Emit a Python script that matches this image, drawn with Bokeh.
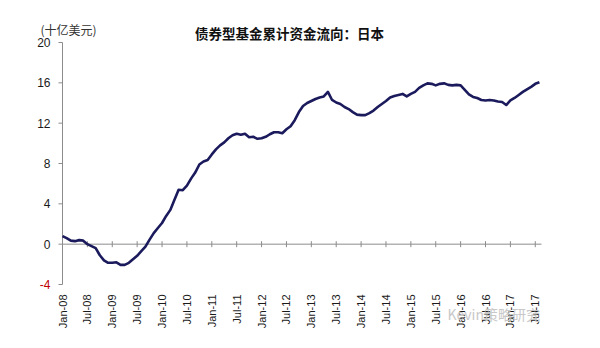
import math
from bokeh.plotting import figure
from bokeh.models import Range1d, Label, ColumnDataSource
from bokeh.core.properties import value
from bokeh.embed import file_html
from bokeh.resources import INLINE

# Monthly cumulative flows (billion USD), Jan-08 .. Aug-17
flows = [
    0.8, 0.6, 0.35, 0.3, 0.4, 0.35, 0.0, -0.2, -0.4, -1.1, -1.6, -1.85,
    -1.85, -1.8, -2.05, -2.05, -1.85, -1.5, -1.15, -0.7, -0.25, 0.45, 1.1, 1.6,
    2.1, 2.8, 3.4, 4.4, 5.4, 5.35, 5.8, 6.5, 7.1, 7.9, 8.2, 8.35,
    8.9, 9.4, 9.8, 10.1, 10.5, 10.8, 10.95, 10.85, 10.95, 10.6, 10.65, 10.45,
    10.5, 10.65, 10.9, 11.1, 11.1, 11.0, 11.4, 11.7, 12.3, 13.1, 13.7, 14.0,
    14.2, 14.4, 14.55, 14.65, 15.1, 14.3, 14.05, 13.9, 13.6, 13.4, 13.1, 12.85,
    12.8, 12.8, 13.0, 13.25, 13.6, 13.9, 14.2, 14.55, 14.7, 14.8, 14.9, 14.65,
    14.9, 15.1, 15.5, 15.75, 15.95, 15.9, 15.75, 15.9, 15.95, 15.8, 15.75, 15.8,
    15.75, 15.3, 14.85, 14.6, 14.5, 14.3, 14.25, 14.3, 14.25, 14.15, 14.1, 13.8,
    14.25, 14.5, 14.8, 15.1, 15.35, 15.6, 15.9, 16.05,
]
months = list(range(len(flows)))

x_tick_pos = list(range(0, 115, 6))
x_tick_labels = ["Jan-08", "Jul-08", "Jan-09", "Jul-09", "Jan-10", "Jul-10",
                 "Jan-11", "Jul-11", "Jan-12", "Jul-12", "Jan-13", "Jul-13",
                 "Jan-14", "Jul-14", "Jan-15", "Jul-15", "Jan-16", "Jul-16",
                 "Jan-17", "Jul-17"]
y_ticks = [-4, 0, 4, 8, 12, 16, 20]
y_tick_labels = ["-4", "0", "4", "8", "12", "16", "20"]
y_label_colors = ["#c00000", "#1a1a1a", "#1a1a1a", "#1a1a1a", "#1a1a1a", "#1a1a1a", "#1a1a1a"]

title_text = "债券型基金累计资金流向：日本"
unit_text = "(十亿美元)"
watermark_text = "Kevin策略研究"

# ---- layout (pixels) ----
W, H = 600, 348
left_px, right_px = 62, 541      # x of month 0 and of the x-axis end
top_px, bottom_px = 42, 284      # y of value 20 and of value -4
x_lo, x_hi = 0.0, 115.5
y_lo, y_hi = -4.0, 20.0
kx = (right_px - left_px) / (x_hi - x_lo)
ky = (bottom_px - top_px) / (y_hi - y_lo)
xr = Range1d(x_lo - left_px / kx, x_hi + (W - right_px) / kx)
yr = Range1d(y_lo - (H - bottom_px) / ky, y_hi + top_px / ky)

p = figure(width=W, height=H, output_backend="svg", toolbar_location=None,
           x_range=xr, y_range=yr, x_axis_location=None, y_axis_location=None,
           min_border=0)
p.outline_line_color = None
p.grid.visible = False
p.background_fill_color = "white"
p.border_fill_color = "white"

axis_gray = "#8c8c8c"
sans = "Liberation Sans"

# y axis: line, outward ticks, labels
p.segment(x0=[x_lo], x1=[x_lo], y0=[y_lo], y1=[y_hi], line_color=axis_gray, line_width=1)
ysrc = ColumnDataSource(dict(y=y_ticks, x0=[x_lo - 4 / kx] * len(y_ticks),
                             x1=[x_lo] * len(y_ticks), t=y_tick_labels, c=y_label_colors,
                             xl=[x_lo] * len(y_ticks)))
p.segment(x0="x0", x1="x1", y0="y", y1="y", source=ysrc, line_color=axis_gray, line_width=1)
p.text(x="xl", y="y", text="t", source=ysrc, x_offset=-12, text_align="right",
       text_baseline="middle", text_font=value(sans), text_font_size="12px",
       text_color="c")

# x axis line at zero with crossing ticks
p.segment(x0=[x_lo], x1=[x_hi], y0=[0], y1=[0], line_color=axis_gray, line_width=1)
xsrc = ColumnDataSource(dict(x=x_tick_pos, y0=[-3 / ky] * len(x_tick_pos),
                             y1=[3 / ky] * len(x_tick_pos), t=x_tick_labels,
                             yl=[y_lo] * len(x_tick_pos)))
p.segment(x0="x", x1="x", y0="y0", y1="y1", source=xsrc, line_color=axis_gray, line_width=1)
p.text(x="x", y="yl", text="t", source=xsrc, angle=math.pi / 2, y_offset=10,
       text_align="right", text_baseline="middle", text_font=value(sans),
       text_font_size="11px", text_color="#1a1a1a")

# series
p.line(months, flows, line_color="#1b1a5c", line_width=2.6, line_join="round")

# title and unit
p.add_layout(Label(x=289, y=32, x_units="canvas", y_units="canvas", text=title_text,
                   text_align="center", text_baseline="middle",
                   text_font="Noto Sans CJK SC", text_font_style="bold",
                   text_font_size="13.5px", text_color="#111111"))
p.add_layout(Label(x=40, y=29, x_units="canvas", y_units="canvas", text=unit_text,
                   text_align="left", text_baseline="middle",
                   text_font="Noto Sans CJK SC", text_font_size="12px",
                   text_color="#333333"))

# watermark
p.add_layout(Label(x=447, y=313, x_units="canvas", y_units="canvas",
                   text=watermark_text, text_align="left", text_baseline="middle",
                   text_font="Noto Sans CJK SC", text_font_size="14px",
                   text_color="#c8c8c8"))

open("out.html", "w").write(file_html(p, INLINE))
